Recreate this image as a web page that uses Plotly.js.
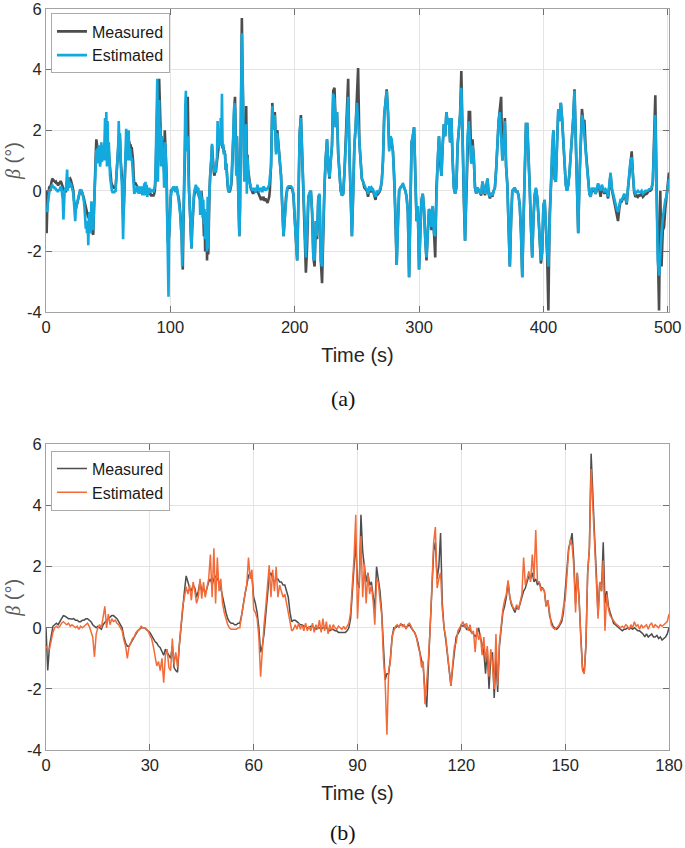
<!DOCTYPE html>
<html><head><meta charset="utf-8">
<script src="https://cdn.plot.ly/plotly-3.0.1.min.js"></script>
<style>html,body{margin:0;padding:0;background:#fff}#chart{width:685px;height:848px}</style>
</head><body><div id="chart"></div>
<script>
// ---- Data: panel (b) / first 180 s, sampled every 0.5 s ----
const stepB = 0.5;
const measuredB = [
0.0,-1.4,-0.6,-0.3,0.05,0.1,0.15,0.1,0.2,0.3,
0.4,0.38,0.35,0.3,0.3,0.28,0.3,0.25,0.25,0.2,
0.2,0.25,0.25,0.3,0.3,0.25,0.2,0.1,0.05,0.0,
0.05,0.0,-0.05,0.1,0.2,0.25,0.3,0.35,0.4,0.4,
0.35,0.3,0.2,0.1,0.0,-0.3,-0.5,-0.6,-0.6,-0.5,
-0.4,-0.3,-0.2,-0.1,-0.05,0.0,0.0,0.0,-0.05,-0.1,
-0.15,-0.25,-0.35,-0.45,-0.5,-0.6,-0.65,-0.8,-0.9,-0.7,
-0.8,-0.9,-1.0,-0.6,-1.3,-1.4,-1.45,-0.6,0.0,0.8,
1.2,1.7,1.5,1.3,1.2,1.4,1.3,1.0,1.2,1.5,
1.2,1.3,1.1,1.3,1.5,1.6,1.4,1.6,1.7,1.6,
1.5,1.3,1.0,0.7,0.5,0.3,0.2,0.15,0.15,0.1,
0.1,0.15,0.15,0.4,0.8,1.1,1.4,1.7,1.8,1.7,
1.0,0.8,0.5,0.0,-0.8,-0.6,-0.2,0.5,1.1,1.7,
1.8,1.6,1.5,1.6,1.6,1.5,1.5,1.4,1.4,1.2,
1.0,0.5,0.2,0.25,0.25,0.2,0.15,0.1,0.1,0.05,
0.05,0.0,0.0,0.05,0.05,0.0,-0.05,0.0,0.0,-0.05,
0.0,0.0,0.0,-0.05,-0.1,-0.05,-0.05,-0.1,-0.1,-0.15,
-0.15,-0.15,-0.15,-0.15,-0.1,0.0,0.3,1.0,2.0,2.8,
1.5,1.3,3.7,2.5,2.0,1.5,1.8,1.4,1.5,1.0,
0.6,2.0,1.6,1.2,0.5,-0.8,-1.7,-1.5,-1.5,-1.0,
-0.3,0.0,0.0,0.05,0.05,0.1,0.1,0.05,0.0,0.05,
0.1,0.0,-0.1,-0.15,-0.3,-0.5,-0.8,-1.1,-1.3,-2.1,
-2.6,-1.2,0.0,1.0,2.5,2.8,1.6,2.0,3.1,0.8,
0.0,-0.4,-0.9,-1.3,-1.9,-1.3,-0.7,-0.3,-0.2,-0.1,
0.1,0.05,0.1,-0.05,0.0,-0.1,-0.15,-0.2,-0.3,-0.2,
0.0,-0.3,-0.6,-0.8,-1.5,-0.7,-2.0,-1.0,-0.8,-2.3,
-1.0,-2.1,-0.6,0.0,0.5,0.7,1.0,1.5,1.0,0.75,
0.6,0.5,0.7,0.6,0.8,1.0,1.2,1.3,1.5,1.7,
1.6,1.8,1.5,1.6,1.4,1.5,1.3,1.3,1.2,0.7,
0.9,0.4,0.2,0.05,0.0,-0.05,0.0,0.1,0.2,0.5,
1.2,1.9,2.6,2.8,3.1,2.2,0.8,1.8,1.0,-0.2,
-1.3,-1.5,-0.6,1.8,2.6,5.7,4.1,3.0,1.8,0.4,
1.5,1.2,2.8,0.8,1.2,0.7,0.5,0.3,0.15,0.1,
0.05,0.0,-0.05,-0.1,-0.05,-0.05,0.0,-0.05,0.0,-0.05,
0.0,-0.05,-0.1,-0.1,-0.15,-0.2,-0.3,-0.2,-0.3,-0.25,
-0.2,-0.3,-0.3,-0.25,-0.35,-0.3,-0.4,-0.35,-0.3,-0.2,
0.0];
const estimatedB = [
-0.6,-0.7,-0.7,-0.4,-0.15,0.0,0.05,0.0,0.05,0.15,
0.2,0.15,0.1,0.15,0.05,0.1,0.05,0.0,0.05,-0.05,
0.05,0.0,0.05,0.1,0.15,0.05,-0.1,-0.3,-0.95,-0.2,
0.0,0.1,0.0,0.35,0.7,0.0,0.45,0.1,0.3,0.2,
0.25,0.15,0.1,0.0,-0.1,-0.4,-0.6,-1.0,-0.6,-0.5,
-0.35,-0.3,-0.15,-0.1,-0.05,0.05,0.0,0.0,-0.05,-0.1,
-0.25,-0.35,-0.6,-0.9,-1.25,-1.1,-1.4,-1.0,-1.8,-0.9,
-0.7,-1.3,-1.4,-0.35,-1.2,-0.8,-1.3,-0.6,0.0,0.7,
1.0,1.35,1.1,1.4,0.9,1.5,1.2,0.8,1.0,1.6,
0.95,1.5,1.0,1.3,1.6,2.4,1.0,2.6,0.8,2.3,
1.2,1.6,0.8,0.5,0.3,0.1,0.0,-0.05,-0.05,-0.05,
-0.05,0.0,0.0,0.4,0.8,1.1,1.4,2.3,1.6,1.9,
0.6,0.5,0.3,-0.3,-1.6,-0.7,0.1,0.7,1.3,2.05,
1.0,1.9,1.2,2.0,1.0,1.4,1.2,1.0,1.1,0.8,
0.5,0.1,-0.1,-0.05,0.1,-0.05,0.15,-0.05,0.1,-0.1,
0.15,-0.1,0.05,-0.1,0.15,-0.15,0.1,-0.05,0.25,-0.15,
0.3,-0.1,0.2,-0.2,0.1,-0.1,0.1,0.0,-0.05,0.05,
0.0,-0.05,0.05,-0.05,0.05,0.15,0.5,1.3,2.3,3.7,
0.3,1.5,3.0,1.0,2.1,0.8,1.8,1.1,1.4,0.9,
0.1,1.6,1.5,0.9,0.4,-1.0,-1.8,-3.5,-1.4,-1.1,
-0.3,-0.1,0.05,0.1,0.0,0.15,0.05,0.1,-0.05,0.1,
0.15,0.05,-0.1,-0.15,-0.3,-0.6,-0.8,-1.3,-1.1,-2.5,
-1.8,-1.0,0.0,1.2,2.8,3.3,1.3,1.6,1.8,0.6,
0.0,-0.3,-0.8,-1.2,-1.9,-1.2,-0.6,-0.5,-0.1,0.0,
0.1,0.2,0.0,0.15,-0.1,0.1,-0.2,-0.1,-0.8,0.0,
-0.4,-0.2,-0.9,-0.3,-1.1,-0.6,-1.6,-0.7,-1.2,-2.0,
-0.2,-1.9,-0.5,0.1,0.6,0.9,1.1,1.55,1.0,0.8,
0.65,0.6,0.75,0.6,0.9,1.1,2.3,1.4,1.6,1.85,
1.5,2.4,1.6,3.2,1.5,1.5,1.2,1.3,1.2,0.7,
0.9,0.4,0.1,0.0,-0.05,0.0,0.05,0.15,0.3,0.7,
0.9,1.7,2.5,2.9,2.7,2.0,0.5,1.8,1.0,-0.3,
-1.4,-1.5,-0.5,1.8,2.6,5.2,4.0,2.9,1.6,0.3,
1.5,1.2,2.2,-0.1,1.1,0.6,0.4,0.3,0.2,0.15,
0.1,0.05,0.0,0.05,0.0,0.1,0.05,-0.05,0.1,0.0,
0.2,0.05,0.1,-0.05,0.1,0.0,0.05,0.1,-0.05,0.1,
0.15,0.0,0.1,0.05,0.0,0.1,0.05,0.1,0.15,0.2,
0.45];

// ---- Data: rest of panel (a), 181 s .. 501 s, every 1 s ----
const startA2 = 181, stepA2 = 1;
const measuredA2 = [
0.9,2.9,2.1,2.6,1.3,2.0,1.5,1.0,0.5,-0.5,
-1.5,-0.9,-0.2,0.05,0.1,0.1,0.1,0.05,-0.15,-0.9,
-1.5,-2.3,-0.3,1.9,2.5,1.2,0.4,-0.8,-2.7,-1.8,
-0.2,-0.1,0.0,-0.7,-2.2,-2.5,-1.0,-1.6,-0.2,-0.15,
-2.3,-3.05,-0.9,0.2,1.1,1.7,0.8,0.4,1.0,1.5,
3.3,3.4,2.1,2.6,1.2,0.4,0.0,-0.15,-0.1,0.6,
1.5,2.5,3.7,1.2,0.1,-1.5,-0.1,1.5,2.1,3.0,
4.05,1.6,1.0,0.4,0.3,0.1,0.05,0.0,-0.2,0.1,
-0.05,0.05,0.0,-0.2,-0.3,-0.05,-0.1,-0.05,0.05,0.3,
1.0,2.5,3.0,3.35,2.6,1.4,1.8,1.6,1.3,0.5,
-0.7,-2.45,-1.0,0.0,0.1,0.15,0.2,0.1,0.0,-0.2,
-0.7,-2.85,-0.8,1.6,1.8,2.1,0.5,-1.0,-0.5,-2.6,
-1.4,-0.3,-0.1,-0.6,-1.6,-2.3,-1.4,-0.6,-0.8,-1.3,
-0.5,-1.5,-2.2,0.1,1.0,1.8,0.9,0.5,1.5,2.2,
1.8,2.6,2.2,2.4,1.6,2.4,1.0,0.1,-0.1,0.1,
1.5,1.9,2.5,3.95,1.6,-0.3,-1.65,0.1,1.8,2.6,
2.6,0.9,1.7,1.1,0.1,-0.1,0.1,0.0,-0.05,-0.15,
0.3,0.1,-0.15,0.1,0.4,-0.1,-0.25,-0.1,-0.2,0.0,
0.1,0.7,1.8,2.3,2.7,3.1,1.0,1.5,2.4,0.8,
0.2,-1.2,-2.5,-1.0,0.0,0.05,0.1,-0.05,0.0,-0.15,
-0.5,-1.4,-2.85,-1.0,0.6,2.2,2.2,1.3,0.1,-1.2,
-2.2,-0.9,-0.15,0.05,-0.2,-0.8,-1.6,-2.4,-2.0,-0.5,
-0.3,-1.4,-2.1,-3.95,-0.8,0.1,1.4,2.0,0.4,0.3,
1.6,2.7,2.3,2.9,2.4,1.6,0.8,0.2,0.0,0.2,
0.6,1.2,1.6,2.4,3.35,1.9,0.1,-1.4,0.4,1.5,
2.7,2.3,2.3,1.4,0.8,0.2,-0.1,-0.2,0.05,0.0,
0.05,-0.1,0.1,0.2,0.05,-0.2,0.15,0.05,-0.1,0.0,
-0.05,-0.25,0.25,0.55,0.05,-0.15,-0.35,-0.5,-0.7,-1.0,
-0.6,-0.35,-0.35,-0.25,-0.15,-0.25,-0.45,0.05,0.45,1.0,
1.3,0.5,-0.05,-0.2,-0.15,-0.2,-0.15,-0.15,-0.1,-0.2,
-0.15,-0.1,-0.1,-0.05,0.0,0.0,0.05,0.3,1.5,3.15,
0.2,-2.3,-3.95,0.0,-2.5,-1.3,-1.2,-0.6,-0.2,0.2,
0.6];
const estimatedA2 = [
0.8,2.8,2.0,2.5,1.2,1.9,1.4,1.0,0.5,-0.55,
-1.5,-0.9,-0.2,0.1,0.15,0.15,0.15,0.1,-0.1,-0.9,
-1.5,-2.3,-0.3,1.9,2.4,1.2,0.4,-0.8,-2.2,-1.2,
-0.2,-0.05,0.0,-0.7,-2.2,-2.3,-1.0,-1.5,-0.2,-0.1,
-2.3,-2.5,-0.9,0.2,1.1,1.7,0.8,0.45,1.0,1.5,
3.2,3.0,2.1,2.6,1.2,0.4,0.0,-0.15,-0.1,0.6,
1.5,2.5,3.1,1.2,0.1,-1.5,-0.1,1.5,2.1,2.9,
2.3,1.5,1.0,0.4,0.3,0.15,0.1,0.05,-0.1,0.15,
0.0,0.1,0.05,-0.1,-0.2,0.0,-0.05,0.0,0.1,0.3,
1.0,2.5,3.0,3.3,2.6,1.3,1.8,1.7,1.3,0.5,
-0.7,-2.45,-1.0,0.0,0.1,0.15,0.25,0.15,0.0,-0.2,
-0.7,-2.85,-0.8,1.6,1.8,2.1,0.5,-1.0,-0.5,-2.6,
-1.4,-0.3,-0.1,-0.6,-1.6,-2.2,-1.4,-0.6,-0.7,-1.2,
-0.5,-1.4,-1.5,0.1,1.0,1.8,0.9,0.5,1.5,2.2,
1.8,2.6,2.2,2.4,1.6,2.4,1.0,0.1,-0.1,0.1,
1.5,1.9,2.5,3.4,1.6,-0.3,-1.65,0.1,1.8,2.3,
1.6,0.9,1.5,1.1,0.1,-0.1,0.1,0.0,-0.05,-0.1,
0.3,0.1,-0.1,0.1,0.4,-0.1,-0.2,-0.1,-0.15,0.0,
0.1,0.7,1.8,2.3,2.6,1.8,1.0,1.5,2.3,0.8,
0.2,-1.2,-2.5,-1.0,0.0,0.05,0.1,-0.05,0.0,-0.15,
-0.5,-1.4,-2.85,-1.0,0.6,2.2,2.2,1.3,0.1,-1.2,
-2.2,-0.9,-0.1,0.1,-0.2,-0.8,-1.6,-2.3,-2.0,-0.5,
-0.3,-1.3,-2.0,-2.5,-0.8,0.1,1.4,2.0,0.4,0.3,
1.6,2.7,2.3,2.9,2.4,1.6,0.8,0.2,0.0,0.2,
0.6,1.2,1.6,2.4,3.3,1.9,0.1,-1.4,0.4,1.5,
2.5,2.3,1.6,1.3,0.8,0.2,-0.1,-0.2,0.1,0.0,
0.1,-0.1,0.15,0.25,0.1,0.0,0.2,0.1,-0.05,0.05,
0.0,-0.2,0.3,0.6,0.1,-0.1,-0.3,-0.45,-0.6,-0.7,
-0.5,-0.3,-0.3,-0.2,-0.1,-0.2,-0.4,0.1,0.5,1.0,
1.1,0.5,0.0,-0.1,-0.05,0.0,-0.05,-0.05,0.0,-0.1,
-0.05,0.0,0.0,0.0,0.05,0.05,0.1,0.3,1.4,2.5,
-0.1,-2.3,-2.8,-2.0,-1.4,-0.9,-0.5,-0.3,-0.2,0.1,
0.4];

const seriesNames = ['Measured', 'Estimated'];
const xTicksA = [0, 100, 200, 300, 400, 500];
const xTicksB = [0, 30, 60, 90, 120, 150, 180];
const yTicks = [-4, -2, 0, 2, 4, 6];
const captions = ['(a)', '(b)'];

// time grids
const timeB = measuredB.map((_, i) => i * stepB);
const timeA2 = measuredA2.map((_, i) => startA2 + i * stepA2);
const timeA = timeB.concat(timeA2);
const measuredA = measuredB.concat(measuredA2);
const estimatedA = estimatedB.concat(estimatedA2);

const cMeas = '#4d4d4d', cBlue = '#12a9de', cOrange = '#f26b38';
const FONT = 'Liberation Sans, Arial, Helvetica, sans-serif';

const traces = [
  {x: timeA, y: measuredA, name: seriesNames[0], type: 'scatter', mode: 'lines',
   line: {color: cMeas, width: 2.6}, xaxis: 'x', yaxis: 'y', legend: 'legend'},
  {x: timeA, y: estimatedA, name: seriesNames[1], type: 'scatter', mode: 'lines',
   line: {color: cBlue, width: 2.6}, xaxis: 'x', yaxis: 'y', legend: 'legend'},
  {x: timeB, y: measuredB, name: seriesNames[0], type: 'scatter', mode: 'lines',
   line: {color: cMeas, width: 1.5}, xaxis: 'x2', yaxis: 'y2', legend: 'legend2'},
  {x: timeB, y: estimatedB, name: seriesNames[1], type: 'scatter', mode: 'lines',
   line: {color: cOrange, width: 1.5}, xaxis: 'x2', yaxis: 'y2', legend: 'legend2'}
];

const axCommon = {
  showgrid: true, gridcolor: '#e4e4e4', gridwidth: 1, zeroline: false,
  showline: true, linecolor: '#a3a3a3', linewidth: 1, mirror: 'ticks',
  ticks: 'inside', ticklen: 6, tickcolor: '#707070', tickwidth: 1,
  ticklabeloverflow: 'allow',
  tickfont: {family: FONT, size: 16.5, color: '#262626'}
};
const xTitle = {text: 'Time (s)', font: {family: FONT, size: 20, color: '#262626'}, standoff: 13};
const yTitle = {text: '<span style="font-family:Liberation Serif,serif"><i>β</i></span> (°)',
  font: {family: FONT, size: 20, color: '#5a5a5a'}, standoff: 1};

const legendCommon = {
  xanchor: 'left', yanchor: 'top', bgcolor: '#ffffff', bordercolor: '#aaaaaa', borderwidth: 1,
  font: {family: FONT, size: 16, color: '#1a1a1a'}, tracegroupgap: 0, itemwidth: 30
};

const layout = {
  width: 685, height: 848,
  margin: {l: 45.5, r: 16, t: 9, b: 98},
  paper_bgcolor: '#ffffff', plot_bgcolor: '#ffffff',
  showlegend: true,
  xaxis: Object.assign({}, axCommon, {domain: [0, 1], anchor: 'y', range: [0, 501],
    tickvals: xTicksA, ticktext: xTicksA.map(String), title: xTitle}),
  yaxis: Object.assign({}, axCommon, {domain: [0.5911, 1], anchor: 'x', range: [-4, 6],
    tickvals: yTicks, ticktext: yTicks.map(String), title: yTitle}),
  xaxis2: Object.assign({}, axCommon, {domain: [0, 1], anchor: 'y2', range: [0, 180],
    tickvals: xTicksB, ticktext: xTicksB.map(String), title: xTitle}),
  yaxis2: Object.assign({}, axCommon, {domain: [0, 0.4123], anchor: 'x2', range: [-4, 6],
    tickvals: yTicks, ticktext: yTicks.map(String), title: yTitle}),
  legend: Object.assign({}, legendCommon, {x: 0.008, y: 0.994}),
  legend2: Object.assign({}, legendCommon, {x: 0.008, y: 0.404}),
  annotations: [
    {text: captions[0], xref: 'paper', yref: 'paper', x: 0.477, y: 0.475, showarrow: false,
     xanchor: 'center', yanchor: 'middle', font: {family: 'Liberation Serif, serif', size: 22, color: '#111'}},
    {text: captions[1], xref: 'paper', yref: 'paper', x: 0.477, y: -0.112, showarrow: false,
     xanchor: 'center', yanchor: 'middle', font: {family: 'Liberation Serif, serif', size: 22, color: '#111'}}
  ]
};

Plotly.newPlot('chart', traces, layout, {staticPlot: true, displayModeBar: false});
</script>
</body></html>
